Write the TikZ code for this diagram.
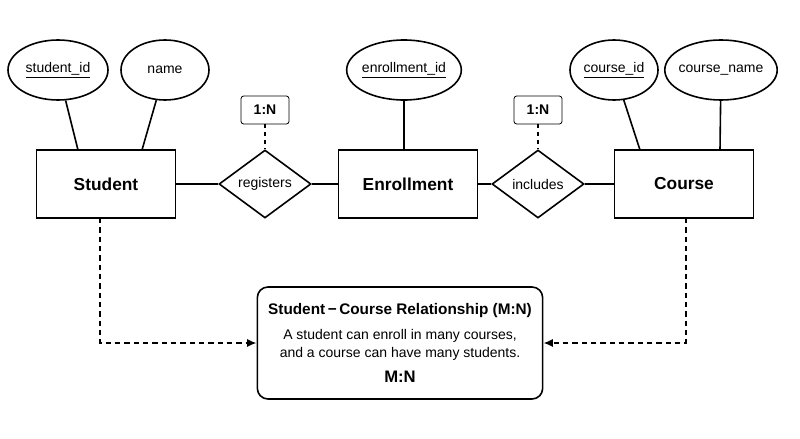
\documentclass[tikz,border=0pt]{standalone}
\usepackage{fontspec}
\setmainfont{Liberation Sans}
\usetikzlibrary{arrows.meta,shapes.geometric}

\begin{document}
\begin{tikzpicture}[x=0.75pt,y=-0.75pt,line width=1.2pt,
  entity/.style={draw,minimum width=104pt,minimum height=51pt,font=\fontsize{13}{15}\selectfont\bfseries},
  attr/.style={draw,ellipse,inner sep=-2pt,minimum height=45pt,font=\fontsize{10.5}{12}\selectfont},
  rel/.style={draw,diamond,aspect=1.35,minimum width=69pt,minimum height=51pt,inner sep=0pt,font=\fontsize{10.5}{12}\selectfont},
  card/.style={draw,rounded corners=2pt,minimum width=36pt,minimum height=21pt,font=\fontsize{10.5}{12}\selectfont\bfseries,line width=0.6pt},
  link/.style={dash pattern=on 4pt off 3pt,-{Latex[length=7pt,width=6pt]}}]
\useasboundingbox (0,0) rectangle (800,439);

% entities and relationships
\node[entity] (student) at (106,184) {Student};
\node[entity] (enroll) at (408,184) {Enrollment};
\node[entity] (course) at (684,184) {Course};
\node[rel] (reg) at (265,184) {registers};
\node[rel] (inc) at (538,184) {includes};
\node[card] (c1) at (265,110) {1:N};
\node[card] (c2) at (538,110) {1:N};

% attributes
\node[attr,minimum width=75pt] (sid) at (58,70) {\underline{student\_id}};
\node[attr,minimum width=66pt] (sname) at (165,70) {name};
\node[attr,minimum width=86pt] (eid) at (404,70) {\underline{enrollment\_id}};
\node[attr,minimum width=66pt] (cid) at (614,70) {\underline{course\_id}};
\node[attr,minimum width=82pt] (cname) at (721,70) {course\_name};

% summary box
\node[draw,rounded corners=8pt,minimum width=214pt,minimum height=84pt,align=center,font=\fontsize{10.5}{13}\selectfont] (note) at (400,343)
  {{\fontsize{11.5}{13}\selectfont\textbf{Student\,\textminus\,Course Relationship (M:N)}}\\[6pt]
   A student can enroll in many courses,\\and a course can have many students.\\[6pt]
   {\fontsize{12.5}{14}\selectfont\textbf{M:N}}};

\draw (sid) -- (78,150);
\draw (sname) -- (142,150);
\draw (eid) -- (enroll.north -| eid);
\draw (cid) -- (640,150);
\draw (cname) -- (720,150);

\draw (student) -- (reg) -- (enroll) -- (inc) -- (course);
\draw[dash pattern=on 3pt off 3pt] (c1) -- (reg.north);
\draw[dash pattern=on 3pt off 3pt] (c2) -- (inc.north);

\coordinate (sb) at (100,218);
\coordinate (cb) at (686,218);
\draw[link] (sb) |- (note.west);
\draw[link] (cb) |- (note.east);
\end{tikzpicture}
\end{document}
